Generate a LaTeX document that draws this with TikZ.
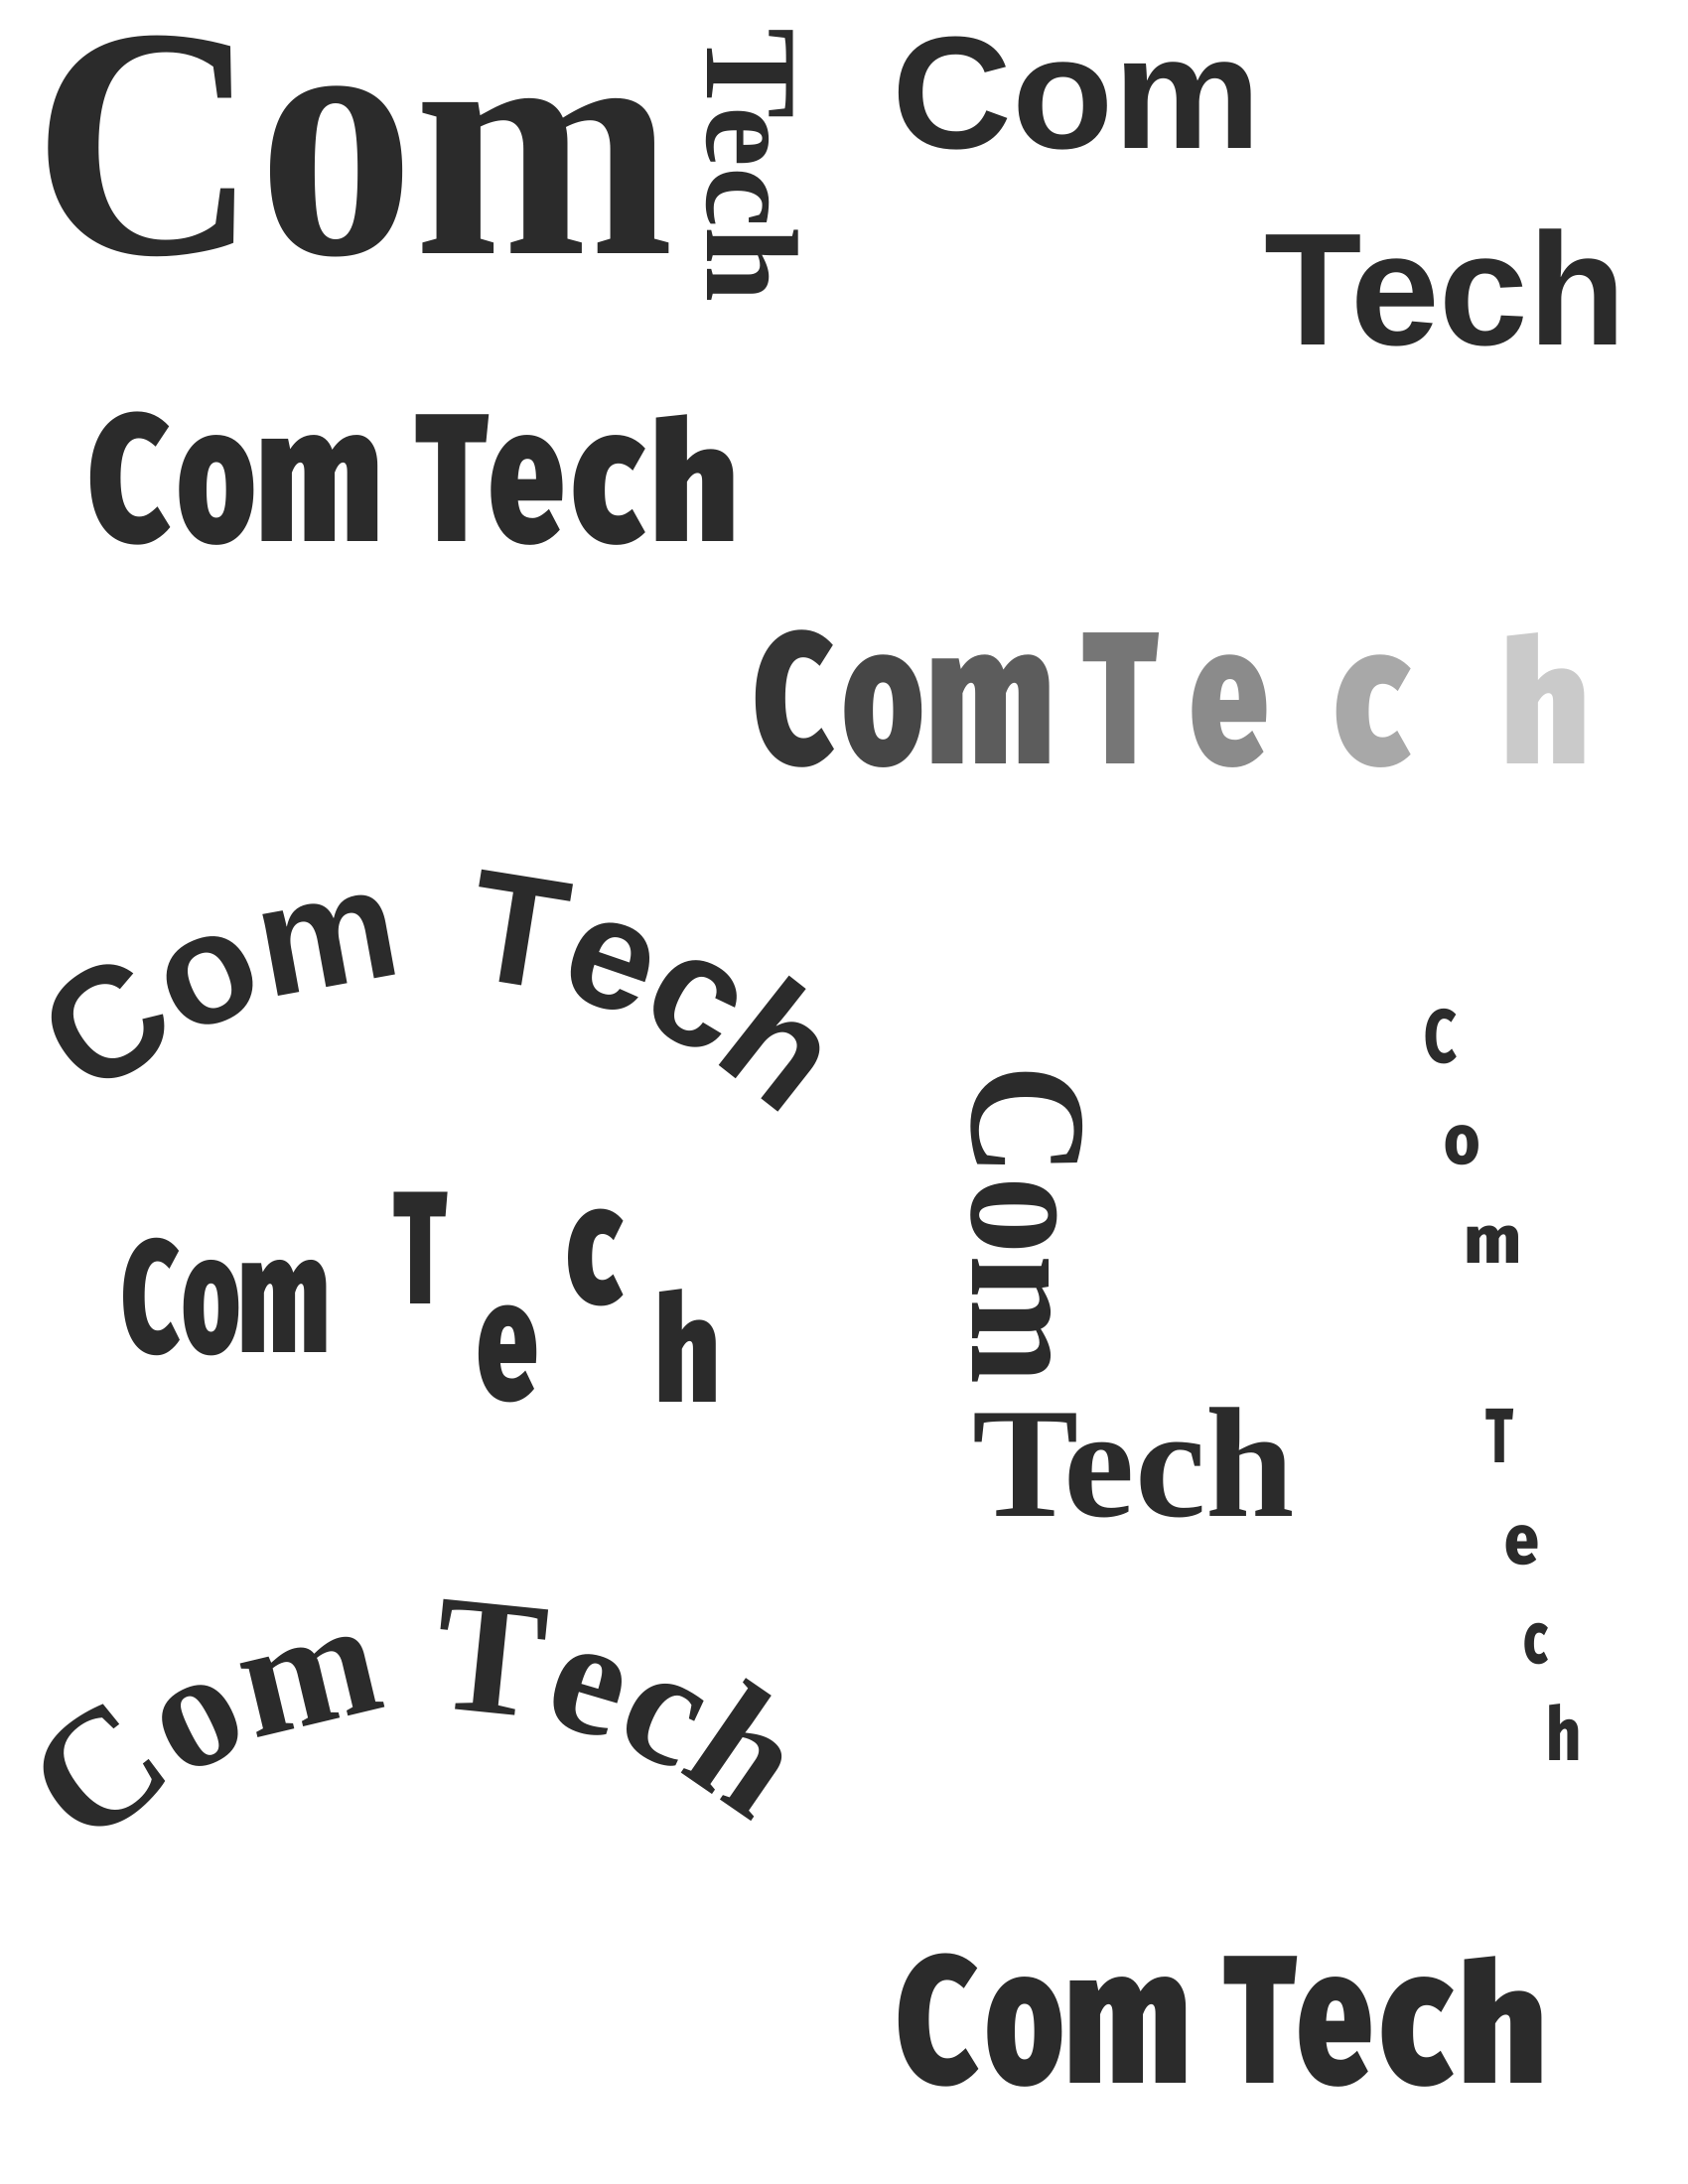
\documentclass[tikz,border=0pt]{standalone}
\usepackage{fontspec}
\usepackage{graphicx}
\XeTeXuseglyphmetrics=1
\newfontfamily\fatserif{Liberation Serif Bold}
\newfontfamily\roundsans{Liberation Sans Bold}
\IfFontExistsTF{Fira Sans Heavy}{\newfontfamily\impactfont{Fira Sans Heavy}}{%
 \IfFontExistsTF{Fira Sans Black}{\newfontfamily\impactfont{Fira Sans Black}}{%
 \IfFontExistsTF{Lato Black}{\newfontfamily\impactfont{Lato Black}}{%
 \IfFontExistsTF{Poppins Black}{\newfontfamily\impactfont{Poppins Black}}{%
 \newfontfamily\impactfont{Liberation Sans Bold}}}}}
\IfFontExistsTF{Fira Sans ExtraBold}{\newfontfamily\humanist{Fira Sans ExtraBold}}{%
 \IfFontExistsTF{Lato Black}{\newfontfamily\humanist{Lato Black}}{%
 \newfontfamily\humanist{Liberation Sans Bold}}}
\definecolor{ink}{HTML}{2B2B2B}
\definecolor{ga}{HTML}{353535}
\definecolor{gb}{HTML}{464646}
\definecolor{gc}{HTML}{5C5C5C}
\definecolor{gd}{HTML}{767676}
\definecolor{ge}{HTML}{8B8B8B}
\definecolor{gf}{HTML}{A8A8A8}
\definecolor{gg}{HTML}{CACACA}
\newdimen\tu \tu=0.5pt
\newdimen\arcacc
\newdimen\arcsp
\newdimen\arclw
\newcommand{\fsz}[1]{\fontsize{#1pt}{#1pt}\selectfont}
\newcommand{\xhigh}[1]{\scalebox{1}[1.08]{#1}}
% trim side bearings of one character (argument may be a macro holding it)
\def\inkc#1{\edef\inkcarg{#1}\expandafter\inkcx\inkcarg\endinkc}
\def\inkcx#1\endinkc{\kern-\XeTeXglyphbounds1 \XeTeXcharglyph`#1\relax #1\kern-\XeTeXglyphbounds3 \XeTeXcharglyph`#1\relax}
\newcommand{\lt}[1]{\kern-\XeTeXglyphbounds1 \XeTeXcharglyph`#1\relax #1}
\newcommand{\rt}[1]{#1\kern-\XeTeXglyphbounds3 \XeTeXcharglyph`#1\relax}
% #1 font, #2 ink width, #3 height above baseline (thumb units), #4 char
\newcommand{\fitc}[4]{\resizebox{#2\tu}{#3\tu}{#1\inkc{#4}}}
\newcommand{\impf}{\impactfont\fsz{50}}
\newcommand{\humf}{\humanist\fsz{30}}
\newcommand{\arcAfont}{\roundsans\fsz{57}}
\newcommand{\arcBfont}{\fatserif\fsz{60}}
% measure letters for the arcs (outside the picture)
% #1 font, #2 prefix, #3 extra word space, #4 tracking
\newcommand{\measurearc}[4]{%
  \setbox0\hbox{#1\global\arcsp=\fontdimen2\font}%
  \global\advance\arcsp by #3\relax
  \global\arcacc=0pt
  \foreach \ch [count=\i] in {C,o,m,T,e,c,h}{%
    \ifnum\i=4 \global\advance\arcacc by \arcsp\fi
    \setbox0\hbox{#1\ch}%
    \global\arclw=\wd0
    \global\advance\arcacc by .5\arclw
    \expandafter\xdef\csname #2p\i\endcsname{\the\arcacc}%
    \global\advance\arcacc by .5\arclw
    \global\advance\arcacc by #4\relax
  }%
  \global\advance\arcacc by -#4\relax
  \expandafter\xdef\csname #2T\endcsname{\the\arcacc}%
}
% #1 centre, #2 radius (pt), #3 middle angle, #4 font, #5 prefix
\newcommand{\placearc}[5]{%
  \foreach \ch [count=\i] in {C,o,m,T,e,c,h}{%
    \edef\cT{\csname #5T\endcsname}\edef\cp{\csname #5p\i\endcsname}%
    \pgfmathsetmacro\th{#3+(\cT/2-\cp)/#2*180/pi}%
    \pgfmathsetmacro\rot{\th-90}%
    \node[inner sep=0pt,outer sep=0pt,text=ink,anchor=base,rotate=\rot] (#5\i) at ([shift={(\th:#2pt)}]#1) {#4\ch};
  }%
}
\begin{document}
\measurearc{\arcAfont}{arcA}{6pt}{-1pt}%
\measurearc{\arcBfont}{arcB}{0pt}{0pt}%
\begin{tikzpicture}[x=0.5pt,y=0.5pt,
  lbl/.style={inner sep=0pt,outer sep=0pt,text=ink,anchor=base west},
  rounded/.style={lbl,font=\roundsans\fsz{58}},
]
\fill[white] (0,0) rectangle (1224,-1584);
\useasboundingbox (0,0) rectangle (1224,-1584);

% big serif Com + rotated Tech
\node[lbl] (bigcom) at (35,-184) {\resizebox{450\tu}{158\tu}{\fatserif\fsz{100}\lt{C}\xhigh{o}\rt{m}}};
\node[lbl,rotate=-90] (rottech) at (513,-22) {\resizebox{196\tu}{66\tu}{\fatserif\fsz{50}\lt{T}ec\rt{h}}};

% rounded Com / Tech
\node[rounded,xscale=1.04] (rcom) at (647,-108) {Com};
\node[rounded] (rtech) at (917,-250) {Tech};

% condensed Com Tech (upper)
\foreach \ch/\dx/\w/\h/\nm in {C/0/58/94/a,o/64/54/77/b,m/124/84/77/c,T/236/53/92/d,e/290/52/77/e,c/350/52/77/f,h/410/56/92/g}
  \node[lbl] (up\nm) at (66+\dx,-393) {\fitc{\impf}{\w}{\h}{\ch}};

% gradient letters
\node[lbl,text=ga] (g1) at (548,-554) {\fitc{\impf}{57}{97}{C}};
\node[lbl,text=gb] (g2) at (613,-554) {\fitc{\impf}{56}{79}{o}};
\node[lbl,text=gc] (g3) at (676,-554) {\fitc{\impf}{85}{79}{m}};
\node[lbl,text=gd] (g4) at (786,-554) {\fitc{\impf}{55}{95}{T}};
\node[lbl,text=ge] (g5) at (865,-554) {\fitc{\impf}{54}{79}{e}};
\node[lbl,text=gf] (g6) at (969,-554) {\fitc{\impf}{54}{79}{c}};
\node[lbl,text=gg] (g7) at (1093,-554) {\fitc{\impf}{56}{95}{h}};

% arc 1
\coordinate (arcAc) at (311,-1084);
\placearc{arcAc}{187.5}{88.6}{\arcAfont}{arcA}

% staggered
\node[lbl] (sC) at (90,-981) {\fitc{\impf}{41}{83}{C}};
\node[lbl] (so) at (133,-981) {\fitc{\impf}{40}{67}{o}};
\node[lbl] (sm) at (176,-981) {\fitc{\impf}{61}{67}{m}};
\node[lbl] (sT) at (286,-946) {\fitc{\impf}{39}{81}{T}};
\node[lbl] (se) at (347,-1015) {\fitc{\impf}{42}{68}{e}};
\node[lbl] (sc) at (412,-945) {\fitc{\impf}{40}{68}{c}};
\node[lbl] (sh) at (478,-1017) {\fitc{\impf}{41}{82}{h}};

% vertical Com + Tech
\node[lbl,rotate=-90] (vcom) at (705,-778) {\resizebox{224\tu}{80\tu}{\fatserif\fsz{50}\lt{C}\xhigh{o}\rt{m}}};
\node[lbl] (vtech) at (707,-1100) {\resizebox{230\tu}{79\tu}{\fatserif\fsz{50}\lt{T}ec\rt{h}}};

% diagonal letters
\node[lbl] (d1) at (1034,-771) {\fitc{\humf}{22.5}{39}{C}};
\node[lbl] (d2) at (1048,-844) {\fitc{\humf}{24}{28}{o}};
\node[lbl] (d3) at (1064,-916) {\fitc{\humf}{37}{27}{m}};
\node[lbl] (d4) at (1078,-1061) {\fitc{\humf}{20}{39}{T}};
\node[lbl] (d5) at (1092,-1134) {\fitc{\humf}{23}{28}{e}};
\node[lbl] (d6) at (1106,-1206) {\fitc{\humf}{17}{29}{c}};
\node[lbl] (d7) at (1124,-1277) {\fitc{\humf}{21}{41}{h}};

% arc 2
\coordinate (arcBc) at (316,-1598);
\placearc{arcBc}{179}{92.5}{\arcBfont}{arcB}

% bottom condensed
\foreach \ch/\dx/\w/\h/\nm in {C/0/58/94/a,o/64/54/77/b,m/124/84/77/c,T/236/53/92/d,e/290/52/77/e,c/350/52/77/f,h/410/56/92/g}
  \node[lbl] (lo\nm) at (652+\dx,-1511) {\fitc{\impf}{\w}{\h}{\ch}};
\end{tikzpicture}
\end{document}
